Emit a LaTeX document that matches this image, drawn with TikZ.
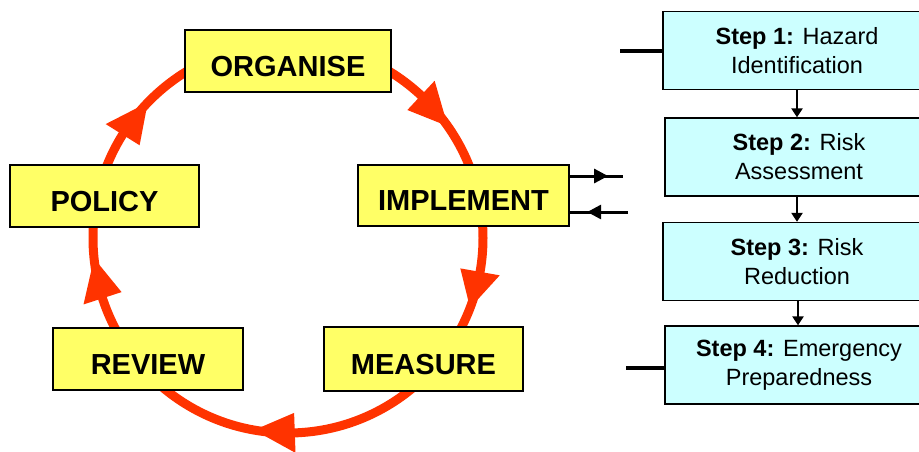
\documentclass[tikz,border=0pt]{standalone}
\usepackage{fontspec}
\setmainfont{Liberation Sans}
\usetikzlibrary{arrows.meta,calc,decorations.markings}
\definecolor{boxyellow}{HTML}{FFFF66}
\definecolor{boxcyan}{HTML}{CCFFFF}
\definecolor{cyclered}{HTML}{FF3300}
\begin{document}
\begin{tikzpicture}[x=1pt,y=-1pt,
  phase/.style={draw=black,line width=1.3pt,fill=boxyellow,inner sep=0pt,
    text height=30pt,text depth=0pt,
    font=\fontsize{29}{33}\selectfont\bfseries},
  stepbox/.style={draw=black,line width=1.3pt,fill=boxcyan,inner sep=0pt,
    minimum width=268pt,minimum height=78pt,align=center,
    font=\fontsize{23.5}{29}\selectfont},
  flow/.style={draw=black,line width=2.5pt,-{Triangle[length=9pt,width=11pt]}},
  sidearrow/.style={draw=black,line width=3pt,postaction={decorate},
    decoration={markings,mark=at position #1 with {\arrow{Triangle[length=14pt,width=14pt]}}}},
  lead/.style={draw=black,line width=4pt},
  cyc/.style={draw=cyclered,line width=9pt},
  cychead/.style={fill=cyclered}
]
\useasboundingbox (0,0) rectangle (919,451);
\clip (0,0) rectangle (919,451);
\fill[white] (0,0) rectangle (919,451);

% cycle circle
\coordinate (c) at (288,238);
\draw[cyc] (c) circle[radius=195];
\foreach \t/\b in {35/12,-21/11,-100/12,186/12,136/12}{
  \fill[cychead] ($(c)+({-\t}:195)$) -- ($(c)+({-(\t+\b)}:215)$) -- ($(c)+({-(\t+\b)}:175)$) -- cycle;
}

% phase boxes
\node[phase,minimum width=206pt,minimum height=62pt] (org) at (288,61) {ORGANISE};
\node[phase,minimum width=189pt,minimum height=62pt] (pol) at (104.5,196) {POLICY};
\node[phase,minimum width=211pt,minimum height=61pt] (impl) at (463.5,195.5) {IMPLEMENT};
\node[phase,minimum width=190pt,minimum height=62pt] (rev) at (148,359) {REVIEW};
\node[phase,minimum width=199pt,minimum height=64pt] (mea) at (423.5,359) {MEASURE};

% step boxes
\node[stepbox] (s1) at (797,50.5) {\textbf{Step 1:} Hazard\\Identification};
\node[stepbox] (s2) at (799,157) {\textbf{Step 2:} Risk\\Assessment};
\node[stepbox] (s3) at (797,261.5) {\textbf{Step 3:} Risk\\Reduction};
\node[stepbox] (s4) at (799,365) {\textbf{Step 4:} Emergency\\Preparedness};

\draw[flow] (s1.south -| 797,0) -- (s2.north -| 797,0);
\draw[flow] (s2.south -| 797,0) -- (s3.north -| 797,0);
\draw[flow] (s3.south -| 798,0) -- (s4.north -| 798,0);

% lead lines
\coordinate (l1) at (620,51);
\coordinate (l4) at (626,368);
\draw[lead] (l1) -- (l1 -| s1.west);
\draw[lead] (l4) -- (l4 -| s4.west);

% implement arrows
\coordinate (i1) at (623,176);
\coordinate (i2) at (628,212);
\draw[sidearrow=0.72] (i1 -| impl.east) -- (i1);
\draw[sidearrow=0.7] (i2) -- (i2 -| impl.east);
\end{tikzpicture}
\end{document}
